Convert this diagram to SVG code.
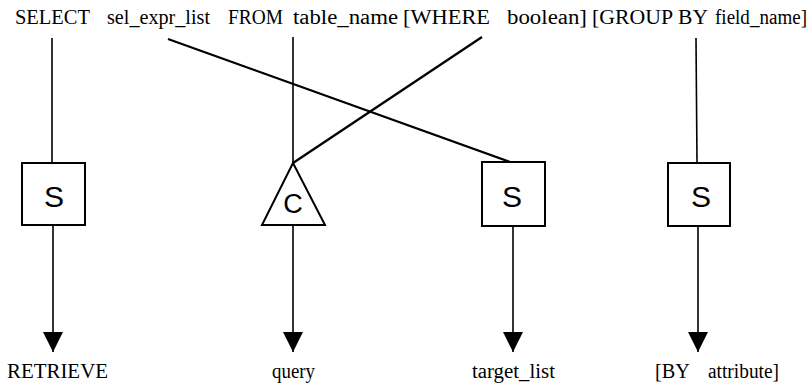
<svg xmlns="http://www.w3.org/2000/svg" width="810" height="386" viewBox="0 0 810 386">
<style>
.t{font-family:"Liberation Serif","Times New Roman",serif;font-size:20px;fill:#000}
.n{font-family:"Liberation Sans",Arial,sans-serif;fill:#000;text-anchor:middle}
.box{fill:#fff;stroke:#000;stroke-width:2}
.ln{stroke:#000;stroke-width:1.6;fill:none}
.dg{stroke:#000;stroke-width:2.2;fill:none}
</style>
<defs>
<marker id="ah" markerUnits="userSpaceOnUse" markerWidth="20" markerHeight="20" refX="20" refY="10" orient="auto" viewBox="0 0 20 20">
<path d="M0,0 L20,10 L0,20 Z" fill="#000"/>
</marker>
</defs>
<rect width="810" height="386" fill="#fff"/>
<g id="header">
<text class="t" x="15" y="24" textLength="75" lengthAdjust="spacingAndGlyphs">SELECT</text>
<text class="t" x="107" y="24" textLength="103" lengthAdjust="spacingAndGlyphs">sel_expr_list</text>
<text class="t" x="228" y="24" textLength="55" lengthAdjust="spacingAndGlyphs">FROM</text>
<text class="t" x="293" y="24" textLength="105" lengthAdjust="spacingAndGlyphs">table_name</text>
<text class="t" x="403" y="24" textLength="87" lengthAdjust="spacingAndGlyphs">[WHERE</text>
<text class="t" x="507" y="24" textLength="80" lengthAdjust="spacingAndGlyphs">boolean]</text>
<text class="t" x="592" y="24" textLength="81" lengthAdjust="spacingAndGlyphs">[GROUP</text>
<text class="t" x="678" y="24" textLength="30" lengthAdjust="spacingAndGlyphs">BY</text>
<text class="t" x="715" y="24" textLength="92" lengthAdjust="spacingAndGlyphs">field_name]</text>
</g>
<g id="connectors">
<line class="ln" x1="52" y1="38" x2="52" y2="163"/>
<line class="ln" x1="293" y1="37" x2="293" y2="163"/>
<line class="ln" x1="696" y1="38" x2="697" y2="163"/>
<line class="dg" x1="168" y1="39" x2="510" y2="162"/>
<line class="dg" x1="482" y1="37" x2="293" y2="163"/>
<line class="ln" x1="53" y1="226" x2="53" y2="352" marker-end="url(#ah)"/>
<line class="ln" x1="293" y1="225" x2="293" y2="352" marker-end="url(#ah)"/>
<line class="ln" x1="513" y1="226" x2="513" y2="352" marker-end="url(#ah)"/>
<line class="ln" x1="698" y1="226" x2="698" y2="352" marker-end="url(#ah)"/>
</g>
<g id="node-s1">
<rect class="box" x="22" y="163" width="63" height="62"/>
<text class="n" x="54" y="207" font-size="30">S</text>
</g>
<g id="node-c">
<polygon class="box" points="293,163 325,225 262,225"/>
<text class="n" x="293" y="213" font-size="27">C</text>
</g>
<g id="node-s2">
<rect class="box" x="482" y="162" width="63" height="64"/>
<text class="n" x="512" y="207" font-size="30">S</text>
</g>
<g id="node-s3">
<rect class="box" x="668" y="163" width="62" height="63"/>
<text class="n" x="701" y="207" font-size="30">S</text>
</g>
<g id="outputs">
<text class="t" x="7" y="378" textLength="101" lengthAdjust="spacingAndGlyphs">RETRIEVE</text>
<text class="t" x="272" y="378" textLength="43" lengthAdjust="spacingAndGlyphs">query</text>
<text class="t" x="472" y="378" textLength="83" lengthAdjust="spacingAndGlyphs">target_list</text>
<text class="t" x="655" y="378" textLength="35" lengthAdjust="spacingAndGlyphs">[BY</text>
<text class="t" x="708" y="378" textLength="71" lengthAdjust="spacingAndGlyphs">attribute]</text>
</g>
</svg>
